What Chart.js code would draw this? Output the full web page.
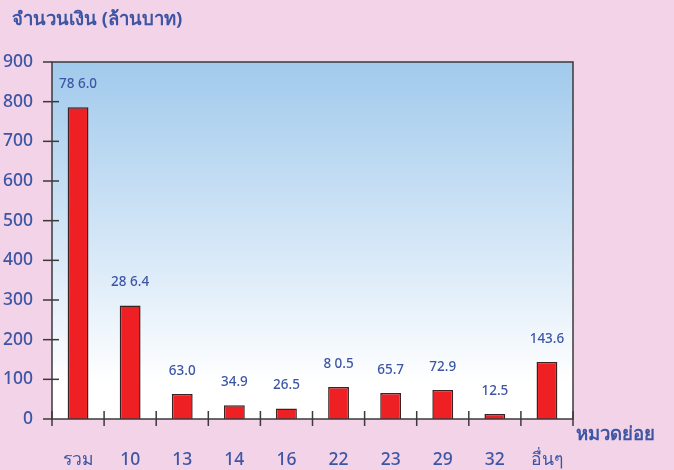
<!DOCTYPE html>
<html>
<head>
<meta charset="utf-8">
<script src="https://cdn.jsdelivr.net/npm/chart.js@4"></script>
<style>
  html, body { margin: 0; padding: 0; background: #f2d3e7; }
  #wrap { width: 674px; height: 470px; }
</style>
</head>
<body>
<div id="wrap"><canvas id="barChart" width="674" height="470"></canvas></div>
<script>
const categories = ['รวม', '10', '13', '14', '16', '22', '23', '29', '32', 'อื่นๆ'];
const amounts = [786.0, 286.4, 63.0, 34.9, 26.5, 80.5, 65.7, 72.9, 12.5, 143.6];
const amountLabels = ['78 6.0', '28 6.4', '63.0', '34.9', '26.5', '8 0.5', '65.7', '72.9', '12.5', '143.6'];
const yTitle = 'จำนวนเงิน (ล้านบาท)';
const xTitle = 'หมวดย่อย';

const FONT = "'Noto Sans', 'DejaVu Sans', sans-serif";
const BLUE = '#3d55a5';
const LINE = '#3a3a3a';

// plot background, frame, tick marks, value labels and titles
const decor = {
  id: 'decor',
  beforeDraw(chart) {
    const { ctx, chartArea: a } = chart;
    const g = ctx.createLinearGradient(0, a.top, 0, a.bottom);
    g.addColorStop(0, '#a1caec');
    g.addColorStop(0.55, '#d9e9f8');
    g.addColorStop(0.9, '#ffffff');
    ctx.save();
    ctx.fillStyle = g;
    ctx.fillRect(a.left, a.top, a.right - a.left, a.bottom - a.top);
    ctx.restore();
  },
  afterDraw(chart) {
    const { ctx, chartArea: a, scales } = chart;
    const x = scales.x, y = scales.y;
    ctx.save();
    ctx.strokeStyle = LINE;
    ctx.lineWidth = 1.5;
    ctx.strokeRect(a.left, a.top, a.right - a.left, a.bottom - a.top);

    // y ticks
    y.ticks.forEach(t => {
      const py = y.getPixelForValue(t.value);
      ctx.beginPath();
      ctx.moveTo(a.left - 9, py);
      ctx.lineTo(t.value === 0 || t.value === 900 ? a.left : a.left + 7, py);
      ctx.stroke();
    });
    // x ticks at category boundaries
    const step = (a.right - a.left) / categories.length;
    for (let i = 0; i <= categories.length; i++) {
      const px = x.getPixelForValue(i) - step / 2;
      ctx.beginPath();
      ctx.moveTo(px, a.bottom - 8);
      ctx.lineTo(px, a.bottom + 7);
      ctx.stroke();
    }

    // value labels
    ctx.fillStyle = BLUE;
    ctx.font = '500 13.5px ' + FONT;
    ctx.textAlign = 'center';
    ctx.textBaseline = 'middle';
    chart.getDatasetMeta(0).data.forEach((bar, i) => {
      ctx.fillText(amountLabels[i], bar.x, bar.y - 23);
    });

    // titles
    ctx.font = 'bold 18.5px ' + FONT;
    ctx.textAlign = 'left';
    ctx.fillText(yTitle, 12, 20);
    ctx.fillText(xTitle, 576, 435);
    ctx.restore();
  }
};

new Chart(document.getElementById('barChart'), {
  type: 'bar',
  data: {
    labels: categories,
    datasets: [{
      data: amounts,
      backgroundColor: '#ee2024',
      borderColor: '#3a2222',
      borderWidth: 1.5,
      barPercentage: 0.4,
      categoryPercentage: 1
    }]
  },
  options: {
    responsive: false,
    animation: false,
    layout: { padding: { top: 62, right: 101, left: 0, bottom: 0 } },
    plugins: { legend: { display: false }, tooltip: { enabled: false } },
    scales: {
      y: {
        min: 0, max: 900,
        ticks: { stepSize: 100, color: BLUE, font: { family: FONT, size: 17.5, weight: '500' }, padding: 19 },
        grid: { display: false, drawTicks: false },
        border: { display: false },
        afterFit(s) { s.width = 52; }
      },
      x: {
        ticks: { color: BLUE, font: { family: FONT, size: 17.5, weight: '500' }, padding: 31 },
        grid: { display: false, drawTicks: false },
        border: { display: false },
        afterFit(s) { s.height = 51; }
      }
    }
  },
  plugins: [decor]
});
</script>
</body>
</html>
